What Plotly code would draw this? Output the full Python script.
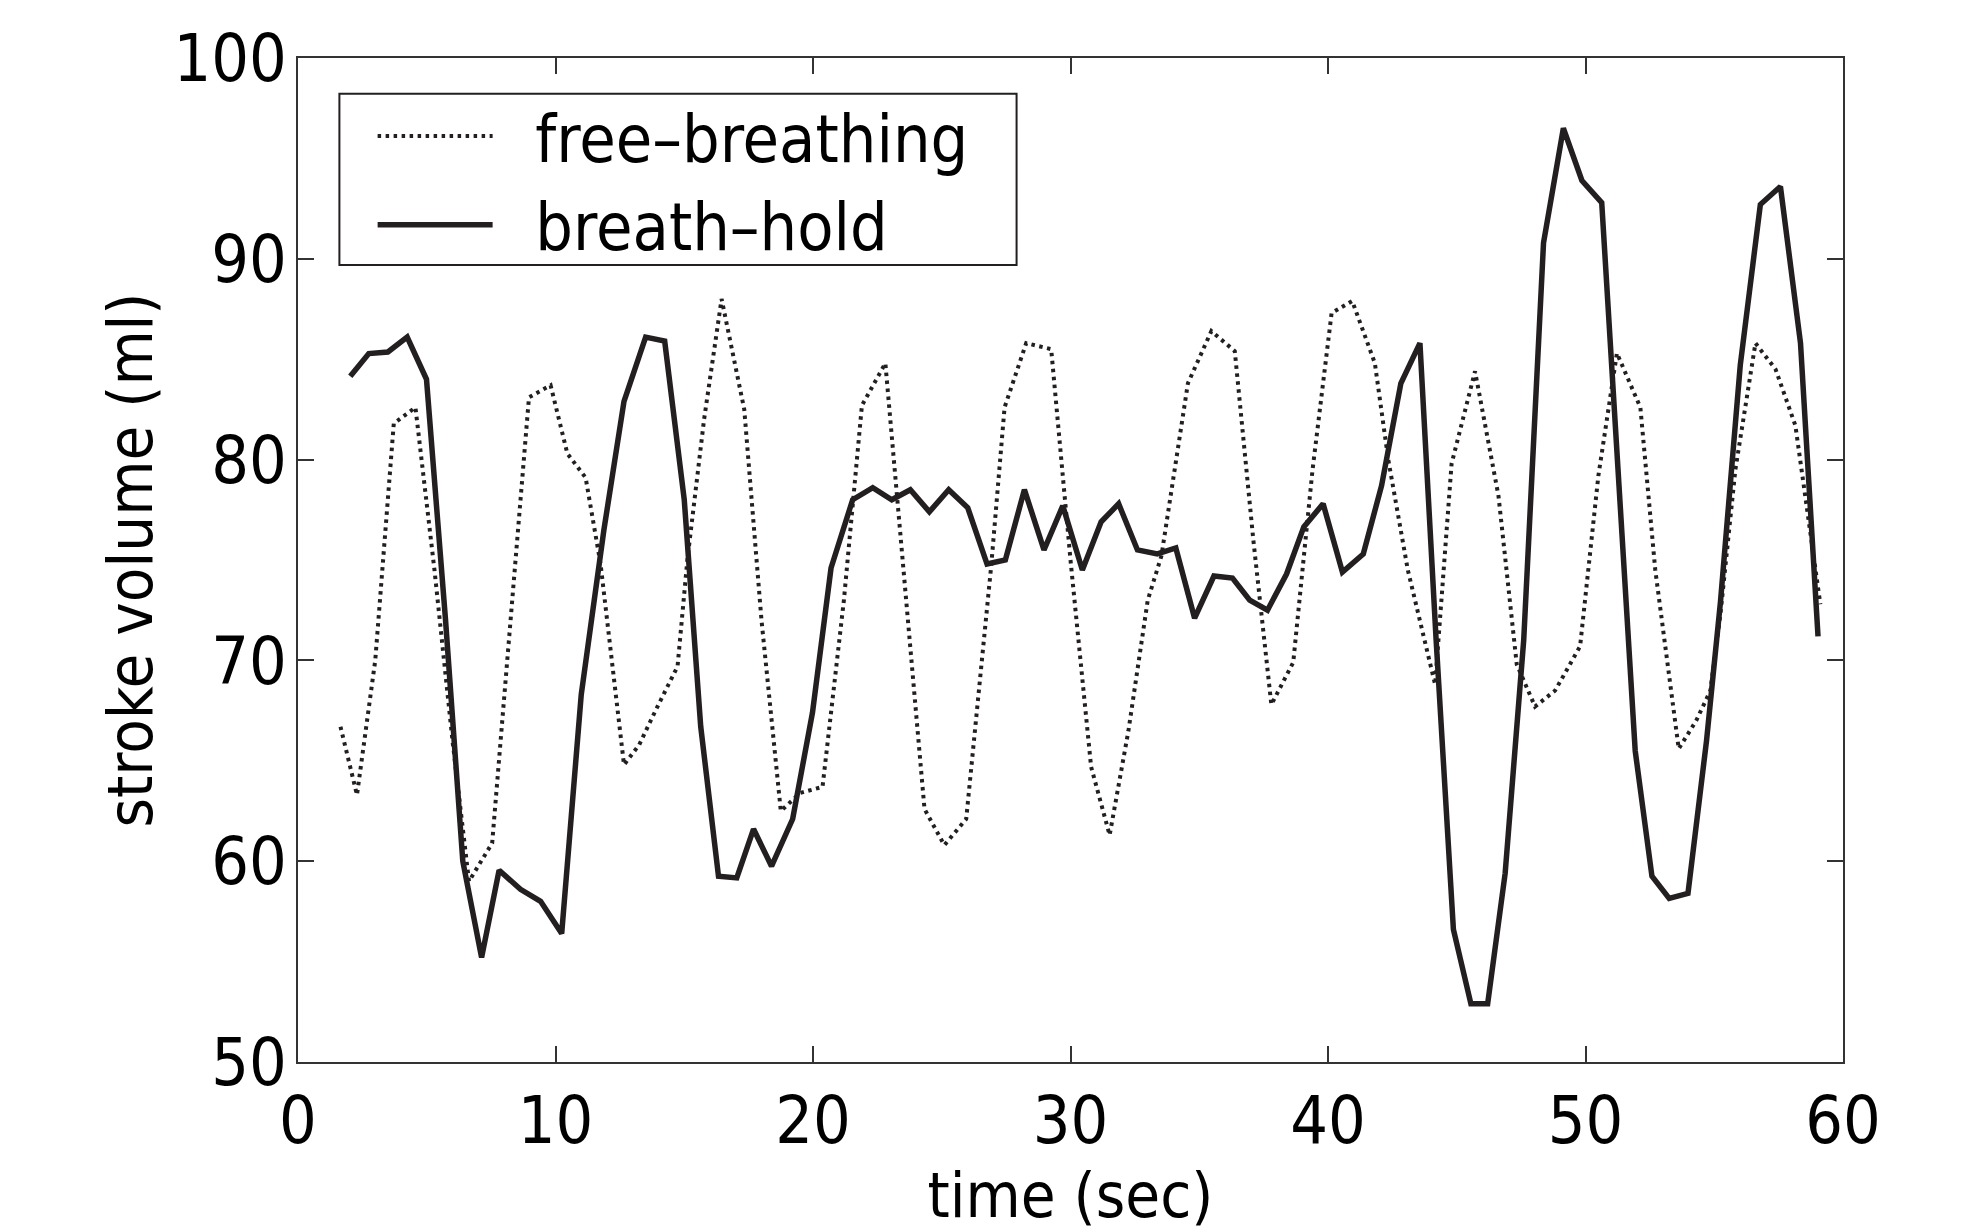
import plotly.graph_objects as go

# free-breathing series (time in s, stroke volume in ml)
fb_time = [1.65, 2.29, 3.0, 3.72, 4.56, 5.3, 6.0, 6.64, 7.54, 8.25, 8.97, 9.81, 10.46, 11.17,
           11.75, 12.66, 13.25, 13.96, 14.74, 15.12, 15.77, 16.45, 17.33, 18.0, 18.75, 19.5,
           20.37, 21.2, 21.9, 22.81, 23.6, 24.33, 25.1, 25.95, 26.92, 27.44, 28.28, 29.25,
           30.0, 30.8, 31.52, 32.25, 33.0, 33.53, 34.56, 35.47, 36.38, 37.1, 37.8, 38.65,
           39.4, 40.14, 40.94, 41.82, 42.34, 43.1, 44.16, 44.8, 45.71, 46.62, 47.33, 48.04,
           48.82, 49.79, 50.5, 51.22, 52.13, 52.71, 53.62, 54.3, 54.85, 55.24, 55.82, 56.6,
           57.38, 58.15, 59.12]
fb_sv = [66.7, 63.3, 70.0, 81.8, 82.6, 74.5, 66.0, 59.0, 60.9, 72.0, 83.1, 83.7, 80.3, 79.1,
         74.8, 64.8, 65.8, 67.7, 69.7, 75.0, 82.0, 88.0, 82.5, 72.0, 62.5, 63.4,
         63.7, 73.0, 82.7, 84.8, 73.5, 62.6, 60.8, 62.1, 74.7, 82.6, 85.8, 85.5,
         75.0, 64.7, 61.3, 66.5, 73.0, 75.2, 83.8, 86.4, 85.4, 76.0, 67.8, 69.9,
         79.5, 87.3, 87.9, 84.8, 80.0, 74.5, 68.8, 79.8, 84.4, 78.2, 69.8, 67.7,
         68.5, 70.7, 79.2, 85.3, 82.6, 74.5, 65.6, 67.0, 68.5, 72.3, 79.5, 85.8,
         84.5, 81.7, 72.8]

# breath-hold series
bh_time = [2.03, 2.75, 3.49, 4.24, 4.99, 5.73, 6.40, 7.13, 7.81, 8.64, 9.42, 10.24, 11.0,
           11.88, 12.66, 13.5, 14.24, 15.0, 15.64, 16.33, 17.04, 17.69, 18.39, 19.21, 19.98,
           20.7, 21.54, 22.32, 23.06, 23.78, 24.52, 25.27, 26.01, 26.76, 27.47, 28.21, 28.97,
           29.70, 30.46, 31.19, 31.87, 32.6, 33.37, 34.09, 34.82, 35.57, 36.29, 36.96, 37.65,
           38.39, 39.06, 39.81, 40.56, 41.37, 42.08, 42.83, 43.57, 44.2, 44.87, 45.55, 46.2,
           46.88, 47.6, 48.37, 49.14, 49.86, 50.63, 51.3, 51.93, 52.58, 53.25, 53.98, 54.7,
           55.24, 56.01, 56.79, 57.57, 58.35, 59.03]
bh_sv = [84.15, 85.28, 85.36, 86.1, 84.0, 72.0, 60.0, 55.2, 59.55, 58.6, 58.0, 56.4, 68.3,
         76.5, 82.9, 86.1, 85.9, 78.0, 66.7, 59.25, 59.17, 61.6, 59.75, 62.1, 67.4,
         74.6, 78.0, 78.6, 78.0, 78.5, 77.4, 78.5, 77.6, 74.8, 75.0, 78.5, 75.5,
         77.7, 74.5, 76.9, 77.8, 75.5, 75.3, 75.6, 72.1, 74.2, 74.1, 73.0, 72.5,
         74.3, 76.65, 77.8, 74.4, 75.3, 78.7, 83.8, 85.8, 71.0, 56.6, 52.9, 52.9,
         59.4, 71.0, 90.8, 96.5, 93.9, 92.8, 79.0, 65.5, 59.25, 58.15, 58.4, 66.0,
         72.9, 84.7, 92.7, 93.6, 85.8, 71.2]

x_ticks = [0, 10, 20, 30, 40, 50, 60]
y_ticks = [50, 60, 70, 80, 90, 100]
series_names = ["free–breathing", "breath–hold"]

FONT = "DejaVu Sans Condensed"
INK = "#231f20"
GAP = "\u00a0\u00a0"

fig = go.Figure()
fig.add_trace(go.Scatter(x=fb_time, y=fb_sv, mode="lines", name=GAP + series_names[0],
                         line=dict(color=INK, width=4, dash="3.5px,4.5px")))
fig.add_trace(go.Scatter(x=bh_time, y=bh_sv, mode="lines", name=GAP + series_names[1],
                         line=dict(color=INK, width=5.5)))

axis_common = dict(showgrid=False, zeroline=False, showline=True, linecolor="#333333",
                   linewidth=2, mirror="ticks", ticks="inside", ticklen=16, tickwidth=1.5,
                   tickcolor="#333333", tickfont=dict(family=FONT, size=66, color="black"))

fig.update_layout(
    width=1966, height=1229,
    paper_bgcolor="white", plot_bgcolor="white",
    margin=dict(l=290, r=131, t=38, b=175),
    font=dict(family=FONT, color="black"),
    xaxis=dict(range=[0, 60], tickvals=x_ticks, ticktext=[str(v) for v in x_ticks],
               title=dict(text="time (sec)", font=dict(family=FONT, size=63), standoff=4),
               **axis_common),
    yaxis=dict(range=[50, 100], tickvals=y_ticks, ticktext=[str(v) for v in y_ticks],
               ticklabelstandoff=-4,
               title=dict(text="stroke volume (ml)", font=dict(family=FONT, size=63), standoff=0),
               **axis_common),
    legend=dict(x=0.0483, y=0.878, xanchor="left", yanchor="middle",
                bgcolor="rgba(0,0,0,0)", borderwidth=0,
                font=dict(family=FONT, size=66, color="black"),
                itemwidth=115, tracegroupgap=0),
    shapes=[dict(type="rect", xref="paper", yref="paper",
                 x0=0.0268, x1=0.4651, y0=0.7938, y1=0.9643,
                 line=dict(color=INK, width=2), fillcolor="white", layer="below")],
    showlegend=True,
)

fig.write_html("out.html")
